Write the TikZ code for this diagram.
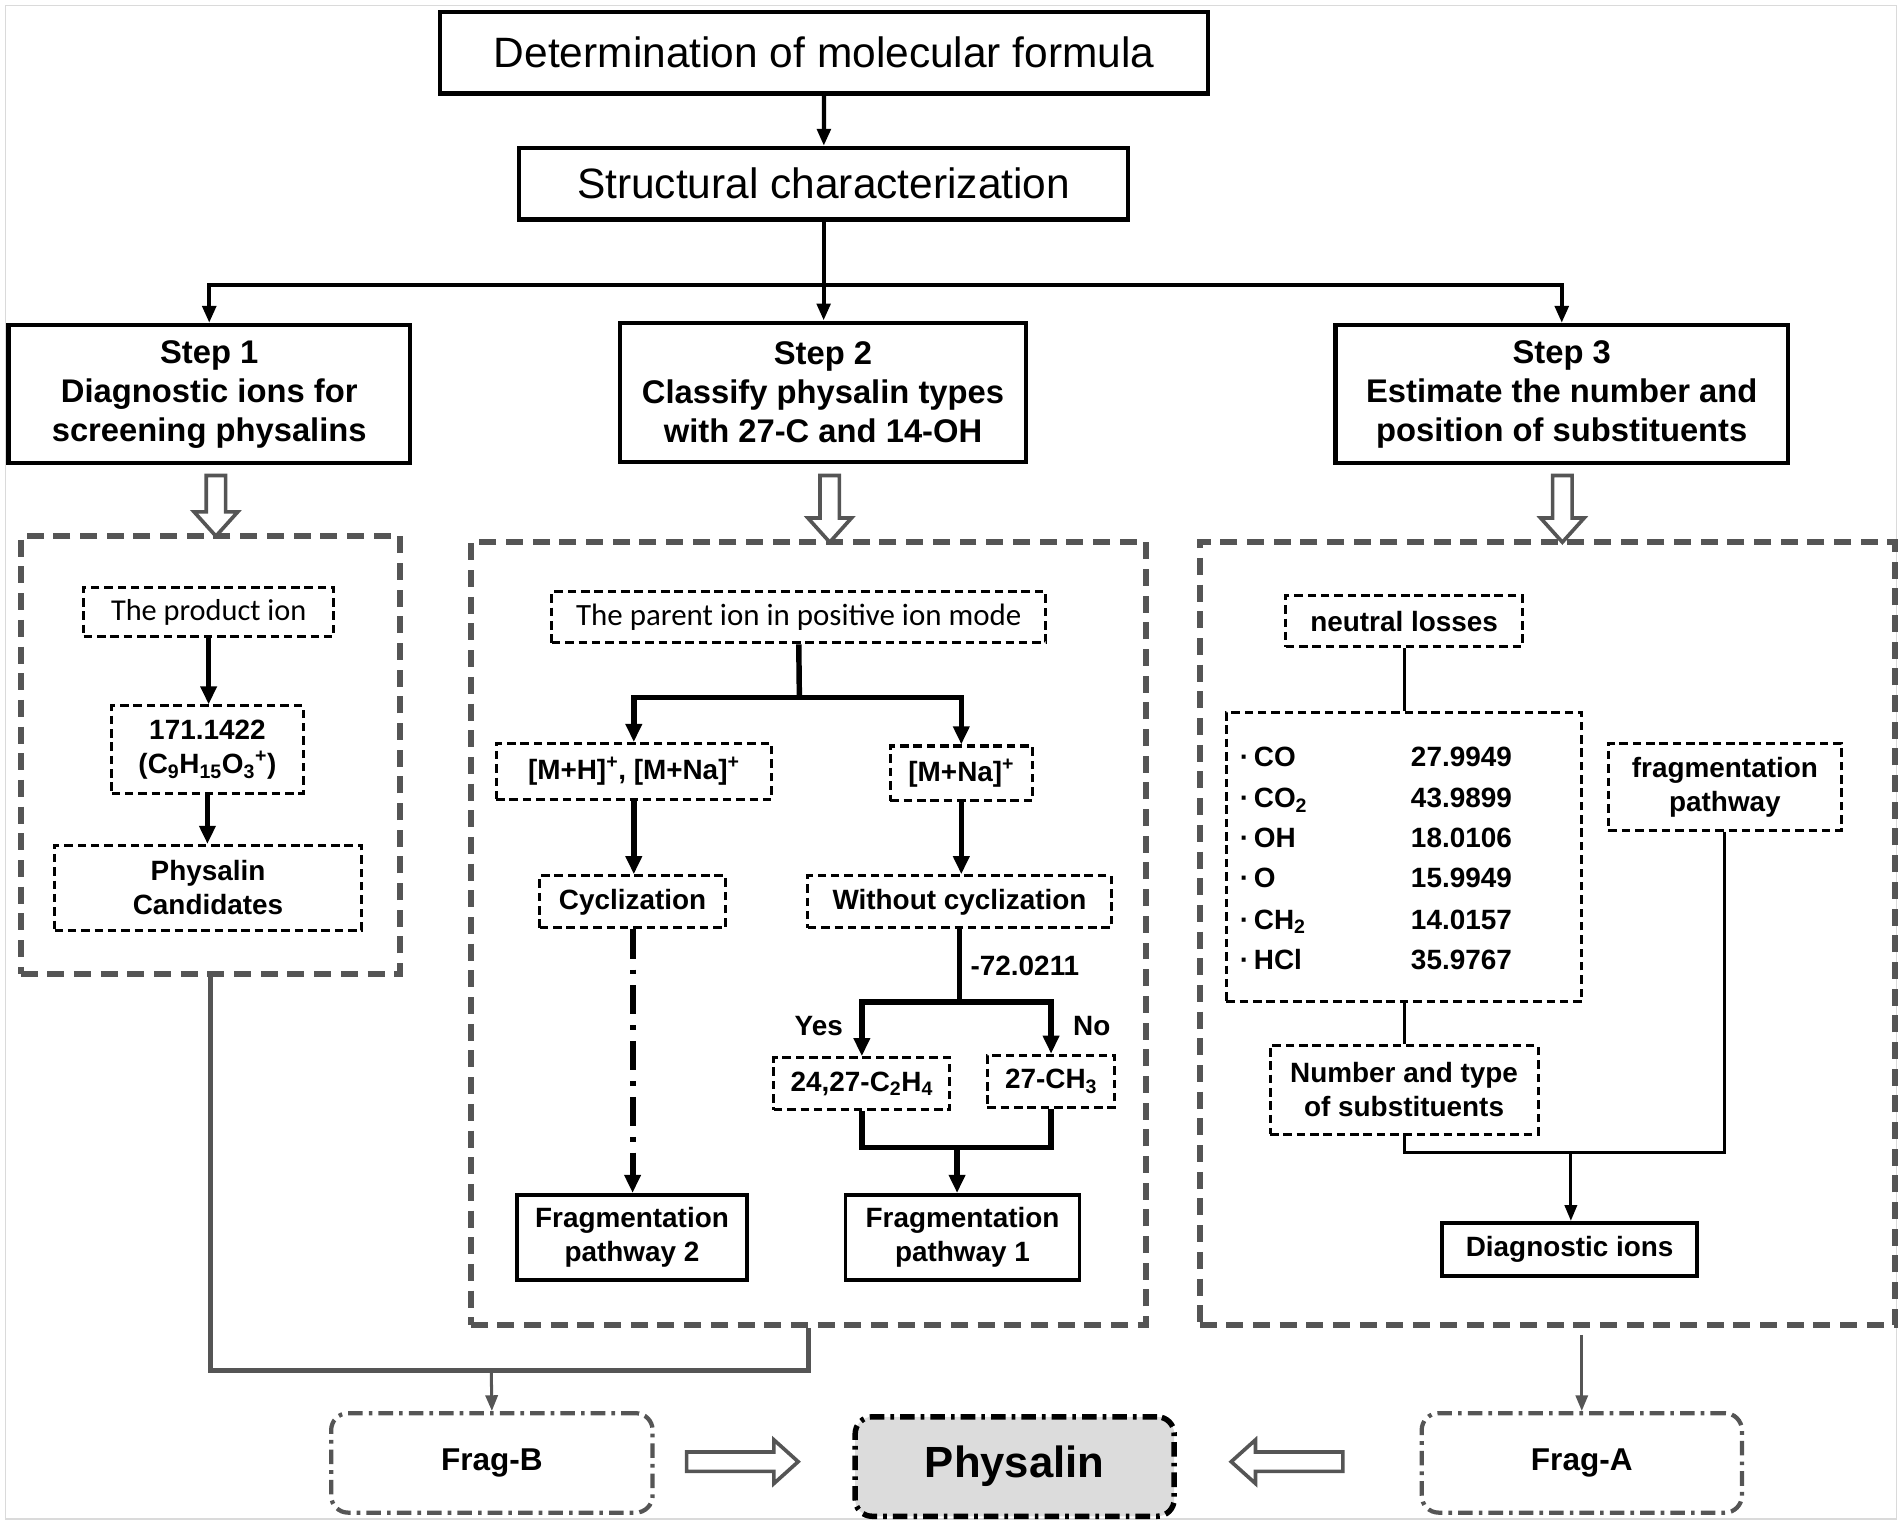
\documentclass[tikz,border=0pt]{standalone}
\usepackage{fontspec}
\setmainfont{Liberation Sans}
\newfontfamily\calfont{Carlito}
\usetikzlibrary{arrows.meta,calc}
\definecolor{cgray}{HTML}{555555}
\definecolor{fillg}{HTML}{DCDCDC}
\definecolor{framec}{HTML}{DADADA}
\newcommand\fsz[2]{\fontsize{#1}{#2}\selectfont}
\tikzset{
  tbox/.style={draw, line width=3.5, inner sep=0, align=center, font=\fsz{35}{42}},
  sbox/.style={draw, line width=3.5, inner sep=0, align=center, font=\fsz{27}{32}\bfseries},
  cont/.style={draw=cgray, line width=5, dash pattern=on 14pt off 8pt, inner sep=0},
  dbox/.style={draw, line width=2.5, dash pattern=on 7pt off 4pt, inner sep=0, align=center, font=\fsz{23}{28}\bfseries},
  pbox/.style={draw, line width=3, inner sep=0, align=center, font=\fsz{23}{28}\bfseries},
  fragbox/.style={draw=cgray, line width=3.5, dash pattern=on 12pt off 5pt on 3pt off 5pt, rounded corners=14, inner sep=0, align=center, font=\fsz{26}{30}\bfseries},
  lbl/.style={inner sep=0, font=\fsz{23}{28}\bfseries},
  ln/.style={line width=3.5, line join=miter},
  ar/.style={line width=3.5, line join=miter, -{Triangle[length=14pt,width=11pt]}},
  thl/.style={line width=4.5, line join=miter},
  thar/.style={line width=4.5, line join=miter, -{Triangle[length=15pt,width=13pt]}},
  tnl/.style={line width=2.5, line join=miter},
  tnar/.style={line width=2.5, -{Triangle[length=13pt,width=10pt]}},
  gl/.style={draw=cgray, line width=4, line join=miter},
  gar/.style={draw=cgray, line width=2.5, -{Triangle[length=13pt,width=10pt]}},
  hol/.style={draw=cgray, line width=3, fill=white, line join=miter},
  hollowarrow/.pic={\draw[hol] (0,0) -- (-20,18) -- (-20,8) -- (-#1,8) -- (-#1,-8) -- (-20,-8) -- (-20,-18) -- cycle;},
}
\begin{document}
\begin{tikzpicture}[x=1pt,y=-1pt]
\useasboundingbox (0,0) rectangle (1568,1257);
\draw[framec, line width=1.5] (4.5,4.5) rectangle (1563.5,1252.5);

% top
\node[tbox, minimum width=633, minimum height=67] (top) at (679.5,43.5) {Determination of molecular formula};
\node[tbox, minimum width=502, minimum height=59] (struct) at (679,151.5) {Structural characterization};
\node[sbox, minimum width=331, minimum height=114] (step1) at (172.5,325) {Step 1\\Diagnostic ions for\\screening physalins};
\node[sbox, minimum width=335, minimum height=115] (step2) at (678.5,323.5) {Step 2\\Classify physalin types\\with 27-C and 14-OH};
\node[sbox, minimum width=373, minimum height=114] (step3) at (1287.5,325) {Step 3\\Estimate the number and\\position of substituents};

\draw[ar] (top) -- (struct);
\coordinate (bar) at (679,235);
\draw[ln] (struct.south) -- (bar);
\draw[ar] (bar) -| (step1.north);
\draw[ar] (bar) -| (step3.north);
\draw[ar] (bar) -- (bar |- step2.north);

% containers
\node[cont, minimum width=313, minimum height=361] (cont1) at (173.5,622.5) {};
\node[cont, minimum width=557, minimum height=645] (cont2) at (666.5,769.5) {};
\node[cont, minimum width=573, minimum height=645] (cont3) at (1275.5,769.5) {};

\pic[rotate=-90] at (178,442) {hollowarrow=50};
\pic[rotate=-90] at (684,447) {hollowarrow=55};
\pic[rotate=-90] at (1288,447) {hollowarrow=55};

% container 1
\node[dbox, minimum width=206, minimum height=41, font=\calfont\fsz{25}{30}] (prod) at (172,504.5) {The product ion};
\node[dbox, minimum width=158, minimum height=72] (ion) at (171,618) {171.1422\\(C\textsubscript{9}H\textsubscript{15}O\textsubscript{3}\textsuperscript{+})};
\node[dbox, minimum width=253, minimum height=70] (cand) at (171.5,732) {Physalin\\Candidates};
\draw[thar] (prod.south) -- (prod.south |- ion.north);
\draw[thar] (ion.south) -- (ion.south |- cand.north);

% container 2
\node[dbox, minimum width=407, minimum height=42, font=\calfont\fsz{25.5}{30}] (parent) at (658.5,509) {The parent ion in positive ion mode};
\node[dbox, minimum width=227, minimum height=46] (mh) at (522.5,636) {[M+H]\textsuperscript{+}, [M+Na]\textsuperscript{+}};
\node[dbox, minimum width=117, minimum height=45] (mna) at (792.5,637.5) {[M+Na]\textsuperscript{+}};
\node[dbox, minimum width=153, minimum height=43] (cyc) at (521.5,743.5) {Cyclization};
\node[dbox, minimum width=250, minimum height=43] (wcyc) at (791,743.5) {Without cyclization};
\node[dbox, minimum width=145, minimum height=43] (c2h4) at (710.5,893.5) {24,27-C\textsubscript{2}H\textsubscript{4}};
\node[dbox, minimum width=105, minimum height=43] (ch3) at (866.5,891.5) {27-CH\textsubscript{3}};
\node[pbox, minimum width=190, minimum height=70] (fp2) at (521,1020) {Fragmentation\\pathway 2};
\node[pbox, minimum width=193, minimum height=70] (fp1) at (793.5,1020) {Fragmentation\\pathway 1};

\coordinate (b2) at (659,575);
\draw[thl] (parent.south) -- (b2);
\draw[thar] (b2) -| (mh.north);
\draw[thar] (b2) -| (mna.north);
\draw[thar] (mh.south) -- (mh.south |- cyc.north);
\draw[thar] (mna.south) -- (mna.south |- wcyc.north);
\draw[line width=5, dash pattern=on 24pt off 9pt on 4pt off 9pt, -{Triangle[length=15pt,width=13pt]}] (cyc.south) -- (cyc.south |- fp2.north);
\coordinate (b3) at (791,826);
\draw[thl] (wcyc.south) -- (b3);
\draw[thar] (b3) -| (c2h4.north);
\draw[thar] (b3) -| (ch3.north);
\node[lbl, anchor=west] (loss) at (800,796) {-72.0211};
\node[lbl] (yes) at (675,846) {Yes};
\node[lbl] (no) at (900,846) {No};
\coordinate (m1) at (789,946);
\draw[thl] (c2h4.south) |- (m1) -| (ch3.south);
\draw[thar] (m1) -- (m1 |- fp1.north);

% container 3
\node[dbox, minimum width=195, minimum height=42] (nl) at (1157.5,512) {neutral losses};
\node[dbox, minimum width=293, minimum height=239] (list) at (1157.5,706.5) {};
\foreach \yy/\aa/\bb in {624/CO/27.9949, 658/CO\textsubscript{2}/43.9899, 691/OH/18.0106, 724/O/15.9949, 758/CH\textsubscript{2}/14.0157, 791/HCl/35.9767}{
  \node[lbl, anchor=base west] (la\yy) at (1022,\yy+8) {·\,\aa};
  \node[lbl, anchor=base west] (lb\yy) at (1163,\yy+8) {\bb};
}
\node[dbox, minimum width=221, minimum height=73] (num) at (1157.5,898.5) {Number and type\\of substituents};
\node[dbox, minimum width=192, minimum height=72] (fpath) at (1422,649) {fragmentation\\pathway};
\node[pbox, minimum width=210, minimum height=44] (diag) at (1294,1030) {Diagnostic ions};
\draw[tnl] (nl.south) -- (list.north);
\draw[tnl] (list.south) -- (num.north);
\coordinate (m3) at (1295,950);
\draw[tnl] (num.south) |- (m3) -| (fpath.south);
\draw[tnar] (m3) -- (m3 |- diag.north);

% bottom
\node[fragbox, minimum width=265, minimum height=82] (fragB) at (405.5,1206) {Frag-B};
\node[fragbox, draw=black, line width=4.5, fill=fillg, minimum width=263, minimum height=82, font=\fsz{36}{40}\bfseries] (phys) at (836.5,1209) {Physalin};
\node[fragbox, minimum width=264, minimum height=82] (fragA) at (1304,1206) {Frag-A};

\coordinate (jB) at (405,1130);
\draw[gl] (cont1.south) |- (jB) -| (cont2.south);
\draw[gar] (jB) -- (fragB.north);
\draw[gar, shorten <=6pt] (cont3.south -| fragA.north) -- (fragA.north);
\pic at (658,1205) {hollowarrow=92};
\pic[rotate=180] at (1015,1205) {hollowarrow=92};
\end{tikzpicture}
\end{document}
